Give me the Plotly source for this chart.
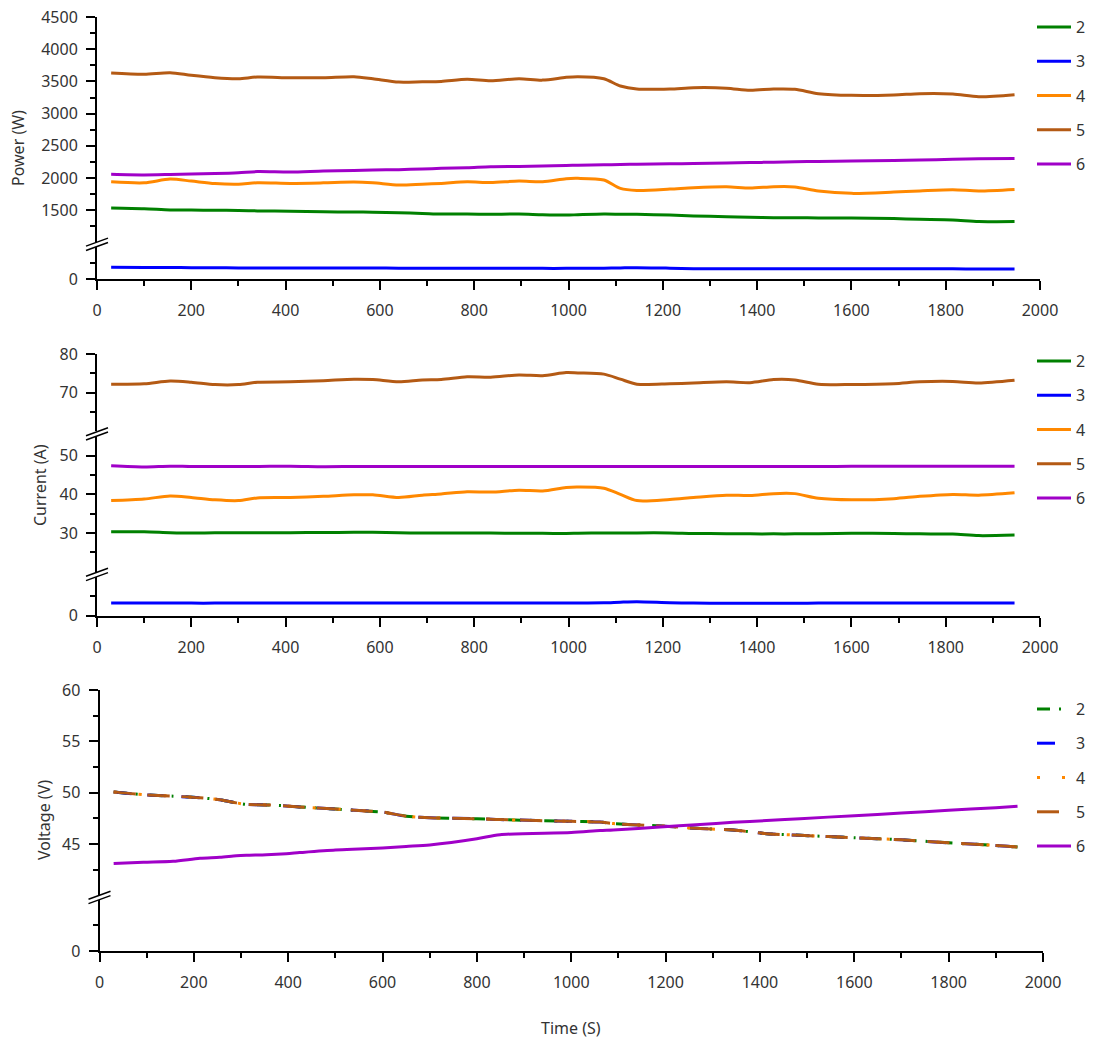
import plotly.graph_objects as go

# ---------------- data ----------------
series_names = ["2", "3", "4", "5", "6"]
colors = ["#008000", "#0000FF", "#FF8800", "#B45A14", "#A000C8"]

t_pc = [30, 100, 155, 200, 250, 300, 340, 410, 480, 545, 585, 640, 690, 730, 785, 835, 895, 945,
        995, 1020, 1075, 1110, 1145, 1215, 1265, 1335, 1385, 1435, 1480, 1530, 1600, 1690, 1745,
        1815, 1870, 1946]

power_2 = [1534, 1523, 1505, 1503, 1500, 1497, 1490, 1485, 1475, 1472, 1470, 1460, 1450, 1441, 1440,
           1438, 1440, 1430, 1425, 1430, 1440, 1438, 1437, 1425, 1410, 1400, 1390, 1385, 1384, 1380,
           1380, 1370, 1360, 1350, 1325, 1325]
power_3 = [182, 180, 178, 176, 174, 172, 172, 171, 171, 170, 170, 168, 167, 166, 166, 166, 166, 165,
           165, 166, 168, 172, 176, 168, 160, 160, 158, 158, 158, 158, 160, 160, 158, 158, 156, 155]
power_4 = [1942, 1926, 1984, 1953, 1915, 1905, 1926, 1917, 1925, 1937, 1925, 1891, 1905, 1917, 1942,
           1930, 1953, 1942, 1990, 1995, 1969, 1840, 1808, 1828, 1850, 1865, 1844, 1865, 1862, 1798,
           1762, 1782, 1800, 1820, 1800, 1823]
power_5 = [3630, 3610, 3635, 3594, 3557, 3542, 3568, 3557, 3557, 3573, 3542, 3490, 3495, 3500, 3532,
           3510, 3542, 3520, 3563, 3573, 3542, 3428, 3382, 3382, 3402, 3395, 3362, 3382, 3378, 3310,
           3284, 3290, 3310, 3305, 3262, 3294]
power_6 = [2057, 2047, 2055, 2063, 2070, 2082, 2100, 2093, 2108, 2115, 2124, 2130, 2140, 2150, 2160,
           2175, 2180, 2187, 2195, 2198, 2205, 2210, 2215, 2220, 2226, 2232, 2240, 2246, 2252, 2258,
           2265, 2274, 2280, 2290, 2298, 2305]

current_2 = [30.35, 30.35, 30.1, 30.0, 30.1, 30.1, 30.1, 30.1, 30.15, 30.2, 30.2, 30.1, 30.0, 30.0,
             30.0, 30.0, 29.95, 29.95, 29.9, 29.95, 30.05, 30.05, 30.05, 30.05, 29.9, 29.85, 29.8,
             29.8, 29.8, 29.85, 29.95, 29.9, 29.8, 29.75, 29.35, 29.5]
current_3 = [3.3, 3.3, 3.3, 3.25, 3.25, 3.3, 3.3, 3.3, 3.3, 3.3, 3.3, 3.3, 3.3, 3.3, 3.3, 3.3, 3.3, 3.3,
             3.3, 3.3, 3.35, 3.5, 3.6, 3.35, 3.25, 3.2, 3.2, 3.2, 3.2, 3.25, 3.3, 3.3, 3.3, 3.3, 3.3, 3.3]
current_4 = [38.4, 38.8, 39.6, 39.2, 38.6, 38.4, 39.1, 39.2, 39.5, 39.9, 39.9, 39.2, 39.8, 40.1, 40.7,
             40.6, 41.1, 40.9, 41.8, 41.9, 41.6, 40.0, 38.4, 38.7, 39.2, 39.8, 39.7, 40.2, 40.2, 39.0,
             38.6, 38.9, 39.5, 40.0, 39.8, 40.4]
current_5 = [72.2, 72.3, 73.0, 72.7, 72.1, 72.1, 72.7, 72.8, 73.1, 73.5, 73.4, 72.8, 73.3, 73.4, 74.1,
             74.0, 74.6, 74.4, 75.2, 75.1, 74.8, 73.5, 72.2, 72.3, 72.5, 72.8, 72.6, 73.4, 73.3, 72.2,
             72.1, 72.3, 72.8, 72.9, 72.5, 73.2]
current_6 = [47.4, 47.1, 47.3, 47.2, 47.2, 47.2, 47.2, 47.3, 47.15, 47.2, 47.2, 47.2, 47.2, 47.2, 47.2,
             47.2, 47.2, 47.2, 47.2, 47.2, 47.2, 47.2, 47.2, 47.2, 47.2, 47.2, 47.2, 47.2, 47.2, 47.2,
             47.25, 47.25, 47.25, 47.25, 47.3, 47.3]

t_v = [30, 93, 156, 213, 255, 290, 311, 354, 396, 424, 500, 550, 600, 650, 700, 800, 849, 1000,
       1061, 1089, 1188, 1273, 1343, 1414, 1485, 1600, 1700, 1800, 1900, 1946]
voltage_2 = [50.06, 49.8, 49.65, 49.5, 49.3, 49.0, 48.85, 48.8, 48.7, 48.6, 48.4, 48.25, 48.1, 47.7,
             47.55, 47.45, 47.37, 47.2, 47.13, 46.98, 46.75, 46.5, 46.35, 46.0, 45.84, 45.6, 45.4,
             45.1, 44.85, 44.7]
voltage_3 = [50.05, 49.8, 49.65, 49.5, 49.3, 49.0, 48.85, 48.8, 48.7, 48.6, 48.4, 48.25, 48.1, 47.7,
             47.55, 47.45, 47.37, 47.2, 47.13, 46.98, 46.75, 46.5, 46.35, 46.0, 45.84, 45.6, 45.4,
             45.1, 44.85, 44.7]
voltage_4 = [50.06, 49.8, 49.65, 49.5, 49.3, 49.0, 48.85, 48.8, 48.7, 48.6, 48.4, 48.25, 48.1, 47.7,
             47.55, 47.45, 47.37, 47.2, 47.13, 46.98, 46.75, 46.5, 46.35, 46.0, 45.84, 45.6, 45.4,
             45.1, 44.85, 44.7]
voltage_5 = [50.07, 49.8, 49.65, 49.5, 49.3, 49.0, 48.85, 48.8, 48.7, 48.6, 48.4, 48.25, 48.1, 47.7,
             47.55, 47.45, 47.37, 47.2, 47.13, 46.98, 46.75, 46.5, 46.35, 46.0, 45.84, 45.6, 45.4,
             45.1, 44.85, 44.7]
voltage_6 = [43.08, 43.2, 43.3, 43.6, 43.7, 43.85, 43.9, 43.95, 44.05, 44.15, 44.4, 44.5, 44.6, 44.75,
             44.9, 45.5, 45.9, 46.1, 46.3, 46.35, 46.65, 46.9, 47.1, 47.28, 47.46, 47.75, 48.0, 48.28,
             48.53, 48.66]

x_ticks = [0, 200, 400, 600, 800, 1000, 1200, 1400, 1600, 1800, 2000]

# ---------------- layout geometry (pixels) ----------------
# the page's body margin is removed (post_script) so the figure fills the window
W, H = 1096, 1044
ML, MT = 97, 17
MR = W - 1043
MB = H - 951
PW = W - ML - MR
PH = H - MT - MB
FONT = "Noto Sans"
TXT = "#333333"


def px_x(x_ref):
    return (x_ref - ML) / PW


def px_y(y_ref):
    return (H - MB - y_ref) / PH


def ydom(top_ref, bot_ref):
    return [px_y(bot_ref), px_y(top_ref)]


fig = go.Figure()

power = [power_2, power_3, power_4, power_5, power_6]
current = [current_2, current_3, current_4, current_5, current_6]
voltage = [voltage_2, voltage_3, voltage_4, voltage_5, voltage_6]
vdash = ["13px,9px,2px,12px", "18px,16px", "3px,22px", "22px,12px", "solid"]

panels = [
    (t_pc, power, ["y", "y2"], "x", "legend", ["solid"] * 5),
    (t_pc, current, ["y3", "y4", "y5"], "x2", "legend2", ["solid"] * 5),
    (t_v, voltage, ["y6", "y7"], "x3", "legend3", vdash),
]

for pi, (tt, data, yaxes, xa, lg, dashes) in enumerate(panels):
    for si, name in enumerate(series_names):
        for k, ya in enumerate(yaxes):
            fig.add_trace(go.Scatter(
                x=tt, y=data[si], name=name, mode="lines",
                line=dict(color=colors[si], width=3, shape="spline", smoothing=0.8, dash=dashes[si]),
                xaxis=xa, yaxis=ya, legend=lg, legendgroup=f"{pi}-{name}",
                showlegend=(k == 0), hoverinfo="x+y+name",
            ))

axis_common = dict(showline=True, linecolor="black", linewidth=2, ticks="outside", ticklen=9,
                   tickwidth=1.5, tickcolor="black", showgrid=False, zeroline=False,
                   ticklabeloverflow="allow",
                   tickfont=dict(family=FONT, size=16, color=TXT))

xdom12 = [0, px_x(1040)]
xdom3 = [px_x(99.5), 1.0]


def xaxis(dom, anchor):
    return dict(axis_common, domain=dom, anchor=anchor, range=[0, 2000], tickvals=x_ticks,
                ticklabelstandoff=7,
                minor=dict(tickvals=[v + 100 for v in x_ticks[:-1]], ticks="outside", ticklen=5,
                           tickwidth=1.5, tickcolor="black"))


def yaxis(dom, anchor, rng, major, minor):
    return dict(axis_common, domain=dom, anchor=anchor, range=rng, tickvals=major,
                ticklabelstandoff=5,
                minor=dict(tickvals=minor, ticks="outside", ticklen=5, tickwidth=1.5, tickcolor="black"))


# segment positions in reference pixels
P1_up = (17, 241.8); P1_lo = (246.8, 279)
P2_up = (354, 431.4); P2_mid = (436.35, 571.8); P2_lo = (577.0, 615.7)
P3_up = (690, 895.2); P3_lo = (899.7, 951)

fig.update_layout(
    xaxis=xaxis(xdom12, "y2"),
    xaxis2=xaxis(xdom12, "y5"),
    xaxis3=xaxis(xdom3, "y7"),
    yaxis=yaxis(ydom(*P1_up), "x", [1010, 4500], [1500, 2000, 2500, 3000, 3500, 4000, 4500],
                [1250, 1750, 2250, 2750, 3250, 3750, 4250]),
    yaxis2=yaxis(ydom(*P1_lo), "x", [0, 500], [0], [250]),
    yaxis3=yaxis(ydom(*P2_up), "x2", [60, 80], [70, 80], [65, 75]),
    yaxis4=yaxis(ydom(*P2_mid), "x2", [20, 55], [30, 40, 50], [25, 35, 45]),
    yaxis5=yaxis(ydom(*P2_lo), "x2", [0, 10], [0], [5]),
    yaxis6=yaxis(ydom(*P3_up), "x3", [40, 60], [45, 50, 55, 60], [42.5, 47.5, 52.5, 57.5]),
    yaxis7=yaxis(ydom(*P3_lo), "x3", [0, 5], [0], [2.5]),
)

# legends
leg_common = dict(xref="paper", yref="paper", xanchor="left", yanchor="top", bgcolor="rgba(0,0,0,0)",
                  font=dict(family=FONT, size=16, color=TXT), tracegroupgap=10.5, itemwidth=34)
fig.update_layout(
    legend=dict(leg_common, x=px_x(1032), y=px_y(10)),
    legend2=dict(leg_common, x=px_x(1032), y=px_y(344)),
    legend3=dict(leg_common, x=px_x(1032), y=px_y(692)),
)

# axis break marks
shapes = []
for axis_x, gaps in [(97, [(P1_up[1] + P1_lo[0]) / 2]),
                     (97, [(P2_up[1] + P2_mid[0]) / 2, (P2_mid[1] + P2_lo[0]) / 2]),
                     (99.5, [(P3_up[1] + P3_lo[0]) / 2])]:
    for yc in gaps:
        for off in (-2.2, 2.2):
            shapes.append(dict(type="line", xref="paper", yref="paper",
                               x0=px_x(axis_x - 11), y0=px_y(yc + off + 4),
                               x1=px_x(axis_x + 11), y1=px_y(yc + off - 4),
                               line=dict(color="black", width=1.5)))
fig.update_layout(shapes=shapes)

# titles
ann = []
for text, xp, yp in [("Power (W)", 18, 148), ("Current (A)", 40, 485), ("Voltage (V)", 44, 820)]:
    ann.append(dict(text=text, xref="paper", yref="paper", x=px_x(xp), y=px_y(yp), showarrow=False,
                    textangle=-90, xanchor="center", yanchor="middle",
                    font=dict(family=FONT, size=16, color=TXT)))
ann.append(dict(text="Time (S)", xref="paper", yref="paper", x=px_x(571), y=px_y(1028), showarrow=False,
                xanchor="center", yanchor="middle", font=dict(family=FONT, size=16, color=TXT)))
fig.update_layout(annotations=ann)

fig.update_layout(
    width=W, height=H, autosize=False,
    margin=dict(l=ML, r=MR, t=MT, b=MB, autoexpand=False),
    paper_bgcolor="white", plot_bgcolor="white",
    showlegend=True,
)

fig.write_html("out.html", config={"displayModeBar": False},
               post_script="document.body.style.margin='0';document.body.style.overflow='hidden';")
